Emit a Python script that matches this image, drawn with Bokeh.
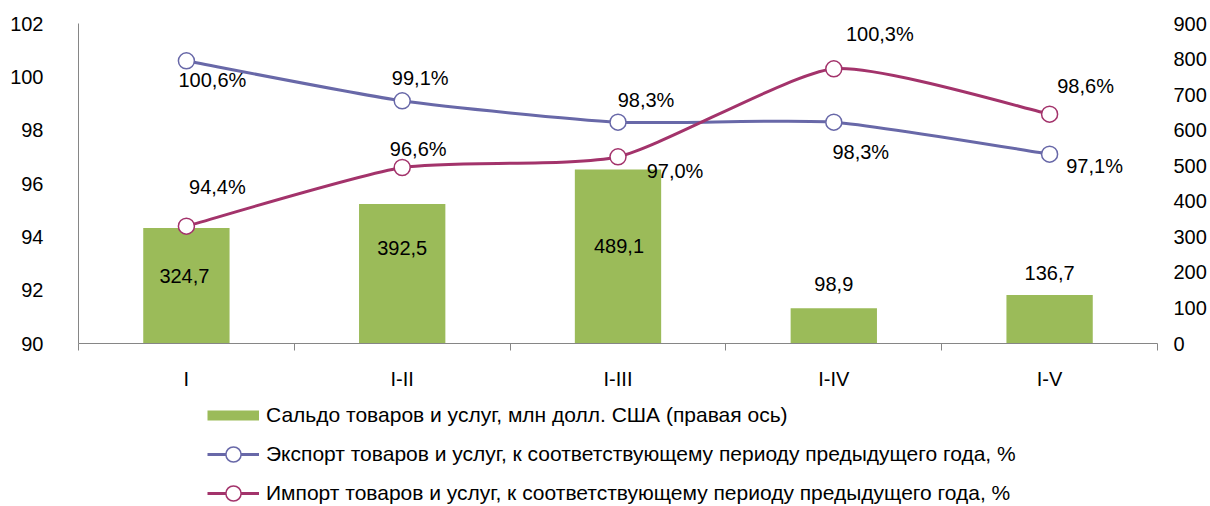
from bokeh.plotting import figure
from bokeh.layouts import column
from bokeh.models import Range1d, LinearAxis, FixedTicker, Legend, LegendItem, ColumnDataSource
from bokeh.core.properties import value
from bokeh.embed import file_html
from bokeh.resources import INLINE

# ---------------- data ----------------
categories = ["I", "I-II", "I-III", "I-IV", "I-V"]
balance = [324.7, 392.5, 489.1, 98.9, 136.7]          # млн долл. США (правая ось)
export_pct = [100.6, 99.1, 98.3, 98.3, 97.1]          # %
import_pct = [94.4, 96.6, 97.0, 100.3, 98.6]          # %
left_ticks = [90, 92, 94, 96, 98, 100, 102]
right_ticks = [0, 100, 200, 300, 400, 500, 600, 700, 800, 900]
legend_labels = [
    "Сальдо товаров и услуг, млн долл. США (правая ось)",
    "Экспорт товаров и услуг, к соответствующему периоду предыдущего года, %",
    "Импорт товаров и услуг, к соответствующему периоду предыдущего года, %",
]

# ---------------- label placement (screen px) ----------------
exp_dx = [26, 18, 28, 27, 45]
exp_dy = [19, -23, -22, 30, 12]
imp_dx = [31, 16, 57, 46, 36]
imp_dy = [-39, -19, 14, -35, -28]
bar_dx = [-2, 0, 1, 0, 0]
bar_dy = [48, 44, 76, -24, -22]

FONT = "Liberation Sans"
GREEN = "#9BBB59"
BLUE = "#6868A8"
RED = "#A3336B"
AXIS = "#868686"
FS = "20px"
LFS = "21px"
SMOOTH = 1 / 10

xs = [i + 0.5 for i in range(len(categories))]


def fmt(v, suffix=""):
    return f"{v:.1f}".replace(".", ",") + suffix


def smooth(xv, yv):
    n = len(xv)
    d = dict(x0=[], y0=[], x1=[], y1=[], cx0=[], cy0=[], cx1=[], cy1=[])
    for i in range(n - 1):
        xp, yp = (xv[i - 1], yv[i - 1]) if i > 0 else (xv[i], yv[i])
        xn, yn = (xv[i + 2], yv[i + 2]) if i + 2 < n else (xv[i + 1], yv[i + 1])
        d["x0"].append(xv[i]); d["y0"].append(yv[i])
        d["x1"].append(xv[i + 1]); d["y1"].append(yv[i + 1])
        d["cx0"].append(xv[i] + (xv[i + 1] - xp) * SMOOTH)
        d["cy0"].append(yv[i] + (yv[i + 1] - yp) * SMOOTH)
        d["cx1"].append(xv[i + 1] - (xn - xv[i]) * SMOOTH)
        d["cy1"].append(yv[i + 1] - (yn - yv[i]) * SMOOTH)
    return ColumnDataSource(d)


p = figure(width=1210, height=393,
           x_range=Range1d(0, len(categories)), y_range=Range1d(90, 102),
           output_backend="svg", toolbar_location=None,
           min_border_left=78, min_border_right=53, min_border_top=23, min_border_bottom=50)
p.extra_y_ranges = {"right": Range1d(0, 900)}
p.outline_line_color = None
p.grid.visible = False

# x axis
xa = p.xaxis[0]
xa.ticker = FixedTicker(ticks=xs, minor_ticks=list(range(len(categories) + 1)))
xa.major_label_overrides = {x: c for x, c in zip(xs, categories)}
xa.major_tick_in = 0
xa.major_tick_out = 0
xa.minor_tick_in = 0
xa.minor_tick_out = 7
xa.minor_tick_line_color = AXIS
xa.axis_line_color = AXIS
xa.major_label_standoff = 17

# left axis
ya = p.yaxis[0]
ya.ticker = FixedTicker(ticks=left_ticks)
ya.major_tick_in = 0
ya.major_tick_out = 0
ya.minor_tick_line_color = None
ya.axis_line_color = AXIS
ya.major_label_standoff = 35

# right axis
ra = LinearAxis(y_range_name="right", ticker=FixedTicker(ticks=right_ticks))
ra.major_tick_in = 0
ra.major_tick_out = 0
ra.minor_tick_line_color = None
ra.axis_line_color = None
ra.major_label_standoff = 16
p.add_layout(ra, "right")

for ax in (xa, ya, ra):
    ax.major_label_text_font = FONT
    ax.major_label_text_font_size = FS
    ax.major_label_text_color = "black"

# bars
p.vbar(x=xs, top=balance, width=0.4, bottom=0, y_range_name="right",
       fill_color=GREEN, line_color=None)

# lines
p.bezier(source=smooth(xs, export_pct), x0="x0", y0="y0", x1="x1", y1="y1",
         cx0="cx0", cy0="cy0", cx1="cx1", cy1="cy1", line_color=BLUE, line_width=3)
p.bezier(source=smooth(xs, import_pct), x0="x0", y0="y0", x1="x1", y1="y1",
         cx0="cx0", cy0="cy0", cx1="cx1", cy1="cy1", line_color=RED, line_width=3)
p.scatter(xs, export_pct, size=16, fill_color="white", line_color=BLUE, line_width=1.5)
p.scatter(xs, import_pct, size=16, fill_color="white", line_color=RED, line_width=1.5)

# data labels
common = dict(text_align="center", text_baseline="middle", text_font=value(FONT),
              text_font_size=FS, text_color="black")
p.text(x=xs, y=export_pct, text=[fmt(v, "%") for v in export_pct],
       x_offset=exp_dx, y_offset=exp_dy, **common)
p.text(x=xs, y=import_pct, text=[fmt(v, "%") for v in import_pct],
       x_offset=imp_dx, y_offset=imp_dy, **common)
p.text(x=xs, y=balance, text=[fmt(v) for v in balance], y_range_name="right",
       x_offset=bar_dx, y_offset=bar_dy, **common)

# ---------------- legend strip (key swatches only, no data drawn) ----------------
lg = figure(width=1210, height=113, x_range=Range1d(0, 1), y_range=Range1d(0, 1),
            output_backend="svg", toolbar_location=None,
            min_border_left=0, min_border_right=0, min_border_top=0, min_border_bottom=0)
lg.axis.visible = False
lg.grid.visible = False
lg.outline_line_color = None
nan = float("nan")
key_src = ColumnDataSource(dict(x=[nan], y=[nan]))
k_bal = lg.line("x", "y", source=key_src, line_color=GREEN, line_width=10)
k_exp_l = lg.line("x", "y", source=key_src, line_color=BLUE, line_width=3)
k_exp_m = lg.scatter("x", "y", source=key_src, size=16, fill_color="white", line_color=BLUE, line_width=1.5)
k_imp_l = lg.line("x", "y", source=key_src, line_color=RED, line_width=3)
k_imp_m = lg.scatter("x", "y", source=key_src, size=16, fill_color="white", line_color=RED, line_width=1.5)

legend = Legend(items=[
    LegendItem(label=legend_labels[0], renderers=[k_bal]),
    LegendItem(label=legend_labels[1], renderers=[k_exp_l, k_exp_m]),
    LegendItem(label=legend_labels[2], renderers=[k_imp_l, k_imp_m]),
], location=(129, -6), orientation="vertical",
    glyph_width=52, glyph_height=38, label_height=38, spacing=1, label_standoff=7,
    padding=0, margin=0, border_line_color=None, background_fill_alpha=0,
    label_text_font=FONT, label_text_font_size=LFS, label_text_color="black")
lg.add_layout(legend, "center")

open("out.html", "w").write(file_html(column(p, lg, spacing=0), INLINE))
